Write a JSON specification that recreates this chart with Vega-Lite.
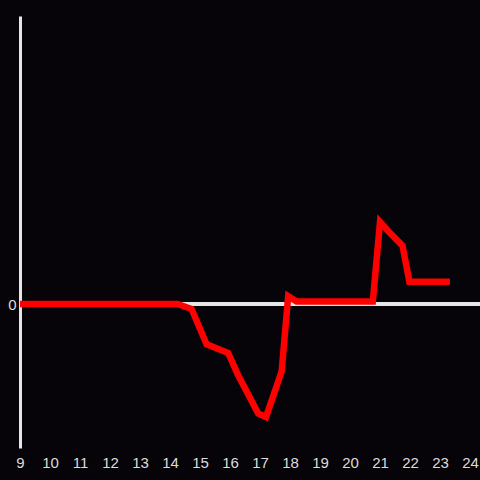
{
  "$schema": "https://vega.github.io/schema/vega-lite/v6.json",
  "width": 460,
  "height": 432,
  "autosize": {"type": "none"},
  "padding": {"left": 20, "top": 16, "right": 0, "bottom": 32},
  "background": "#060409",
  "config": {
    "view": {"stroke": null},
    "axis": {"grid": false, "ticks": false, "title": null, "labelFont": "Liberation Sans", "labelFontSize": 15, "labelColor": "#dcdcdc"}
  },
  "data": {
    "values": [
      {"t": 9, "v": 0},
      {"t": 10, "v": 0},
      {"t": 11, "v": 0},
      {"t": 12, "v": 0},
      {"t": 13, "v": 0},
      {"t": 14, "v": 0},
      {"t": 14.25, "v": 0},
      {"t": 14.72, "v": -0.035},
      {"t": 15.22, "v": -0.28},
      {"t": 15.94, "v": -0.34},
      {"t": 16.26, "v": -0.49},
      {"t": 16.94, "v": -0.76},
      {"t": 17.2, "v": -0.785},
      {"t": 17.72, "v": -0.47},
      {"t": 17.94, "v": 0.055},
      {"t": 18.22, "v": 0.017},
      {"t": 19, "v": 0.017},
      {"t": 20, "v": 0.017},
      {"t": 20.76, "v": 0.017},
      {"t": 21.0, "v": 0.57},
      {"t": 21.3, "v": 0.5},
      {"t": 21.75, "v": 0.405},
      {"t": 21.98, "v": 0.155},
      {"t": 23, "v": 0.155},
      {"t": 23.33, "v": 0.155}
    ]
  },
  "layer": [
    {
      "mark": {"type": "rule", "color": "#e6e6e6", "strokeWidth": 2.5},
      "encoding": {"y": {"datum": 0, "type": "quantitative"}}
    },
    {
      "mark": {"type": "line", "color": "#ff0000", "strokeWidth": 6.5, "strokeJoin": "miter"},
      "encoding": {
        "x": {
          "field": "t", "type": "quantitative",
          "scale": {"domain": [9, 24.3333], "nice": false, "zero": false},
          "axis": {"values": [9,10,11,12,13,14,15,16,17,18,19,20,21,22,23,24], "domain": false, "labelPadding": 7, "labelFlush": false}
        },
        "y": {
          "field": "v", "type": "quantitative",
          "scale": {"domain": [-1, 2], "nice": false},
          "axis": {"values": [0], "format": "d", "domain": true, "domainColor": "#e6e6e6", "domainWidth": 3, "labelPadding": 4}
        }
      }
    }
  ]
}
